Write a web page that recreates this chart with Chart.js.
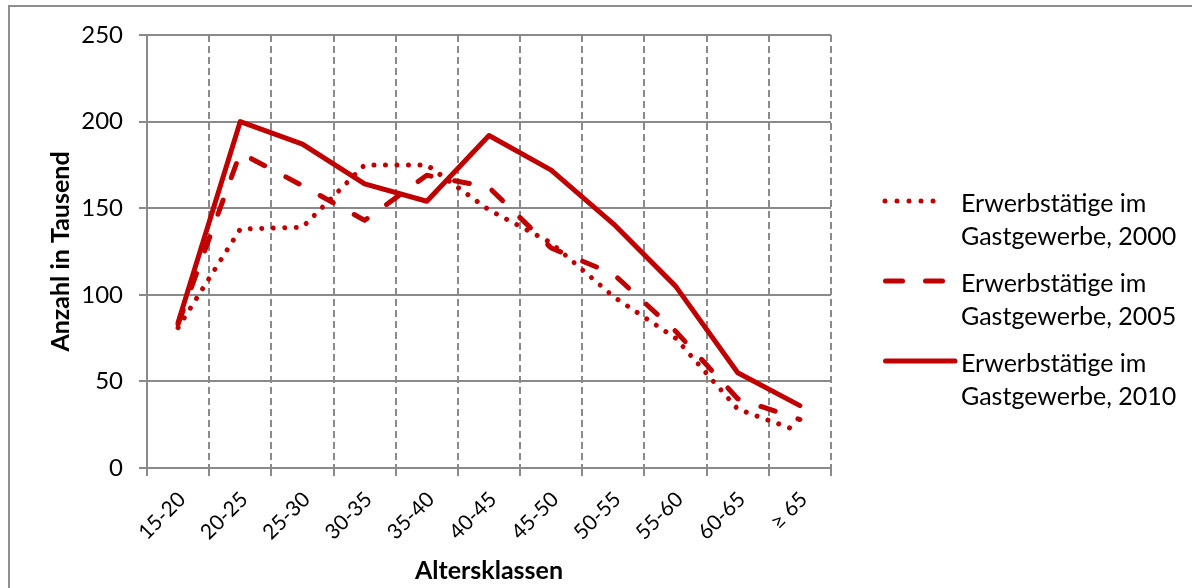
<!DOCTYPE html>
<html lang="de">
<head>
<meta charset="utf-8">
<title>Erwerbstätige im Gastgewerbe nach Altersklassen</title>
<script src="https://cdn.jsdelivr.net/npm/chart.js@4.4.1/dist/chart.umd.min.js"></script>
<style>
  html, body { margin: 0; padding: 0; background: #fff; }
  #wrap { position: relative; width: 1192px; height: 588px; overflow: hidden; }
  #frame { position: absolute; left: 8px; top: 5px; width: 1300px; height: 700px;
           border-left: 2px solid #8e8e8e; border-top: 2px solid #8e8e8e; }
  #chart { position: absolute; left: 0; top: 0; }
  .item { position: absolute; left: 880px; width: 310px; }
  .item svg { position: absolute; left: 0; top: 0; overflow: visible; }
  .item .txt { position: absolute; left: 81px; top: 0; width: 230px;
               font-family: Lato, "Open Sans", sans-serif; font-size: 25px; line-height: 33px; color: #000; }
</style>
</head>
<body>
<div id="wrap">
  <div id="frame"></div>
  <canvas id="chart" width="1192" height="588"></canvas>
  <div id="legend"></div>
</div>
<script>
// Altersklassen (x axis)
const categories = ['15-20', '20-25', '25-30', '30-35', '35-40', '40-45',
                    '45-50', '50-55', '55-60', '60-65', '≥ 65'];

// Erwerbstätige im Gastgewerbe, in Tausend
const series2000 = [81, 138, 139, 175, 175, 149, 130, 99, 75, 34, 21];
const series2005 = [83, 182, 163, 143, 169, 162, 127, 112, 79, 40, 28];
const series2010 = [84, 200, 187, 164, 154, 192, 172, 141, 105, 55, 36];

const seriesNames = ['Erwerbstätige im Gastgewerbe, 2000',
                     'Erwerbstätige im Gastgewerbe, 2005',
                     'Erwerbstätige im Gastgewerbe, 2010'];

const yTicks = [0, 50, 100, 150, 200, 250];

const RED = '#C00000';
const GRID = '#8a8a8a';
const FONT = 'Lato, "Open Sans", sans-serif';

const lineStyles = [
  { borderWidth: 5, borderDash: [0.01, 11.5] },
  { borderWidth: 5, borderDash: [15, 24] },
  { borderWidth: 5, borderDash: [] }
];

const datasets = [series2000, series2005, series2010].map((values, i) => ({
  label: seriesNames[i],
  data: values,
  borderColor: RED,
  backgroundColor: RED,
  borderWidth: lineStyles[i].borderWidth,
  borderDash: lineStyles[i].borderDash,
  borderCapStyle: 'round',
  borderJoinStyle: 'round',
  pointRadius: 0,
  pointHoverRadius: 0,
  fill: false,
  tension: 0
}));

new Chart(document.getElementById('chart'), {
  type: 'line',
  data: { labels: categories, datasets: datasets },
  options: {
    responsive: false,
    animation: false,
    devicePixelRatio: 1,
    layout: { padding: { left: 0, top: 35, right: 361, bottom: 0 } },
    plugins: { legend: { display: false }, tooltip: { enabled: false } },
    scales: {
      x: {
        type: 'category',
        offset: true,
        grid: { offset: true, color: GRID, lineWidth: 2, tickLength: 8, tickColor: GRID, tickWidth: 2 },
        border: { display: true, color: GRID, width: 2, dash: [7, 4] },
        ticks: { color: '#000', font: { family: FONT, size: 21 }, minRotation: 45, maxRotation: 45,
                 autoSkip: false, padding: 11, labelOffset: 4 },
        title: { display: true, text: 'Altersklassen', color: '#000',
                 font: { family: FONT, size: 25, weight: 'bold' }, padding: { top: 0, bottom: 2 } },
        afterFit(scale) { scale.height = 120; scale.paddingLeft = 0; scale.paddingRight = 0; }
      },
      y: {
        min: 0,
        max: 250,
        afterBuildTicks(scale) { scale.ticks = yTicks.map(v => ({ value: v })); },
        grid: { color: GRID, lineWidth: 2, tickLength: 8, tickColor: GRID, tickWidth: 2 },
        border: { display: true, color: GRID, width: 2 },
        ticks: { color: '#000', font: { family: FONT, size: 24 }, padding: 16 },
        title: { display: true, text: 'Anzahl in Tausend', color: '#000',
                 font: { family: FONT, size: 25, weight: 'bold' }, padding: { top: 46, bottom: 0 } },
        afterFit(scale) { scale.width = 147; scale.paddingTop = 0; scale.paddingBottom = 0; }
      }
    }
  }
});

// Legend on the right: line sample plus wrapped series name
const legend = document.getElementById('legend');
const legendTops = [186, 266, 346];
const samples = [
  '<line x1="5" y1="15" x2="65" y2="15" stroke="' + RED + '" stroke-width="5" stroke-linecap="round" stroke-dasharray="0.01 12"/>',
  '<line x1="5.5" y1="15" x2="66" y2="15" stroke="' + RED + '" stroke-width="5" stroke-linecap="round" stroke-dasharray="17 23"/>',
  '<line x1="5.5" y1="15" x2="75" y2="15" stroke="' + RED + '" stroke-width="5" stroke-linecap="round"/>'
];
seriesNames.forEach((name, i) => {
  const item = document.createElement('div');
  item.className = 'item';
  item.style.top = legendTops[i] + 'px';
  item.innerHTML = '<svg width="80" height="30">' + samples[i] + '</svg><div class="txt">' + name + '</div>';
  legend.appendChild(item);
});
</script>
</body>
</html>
